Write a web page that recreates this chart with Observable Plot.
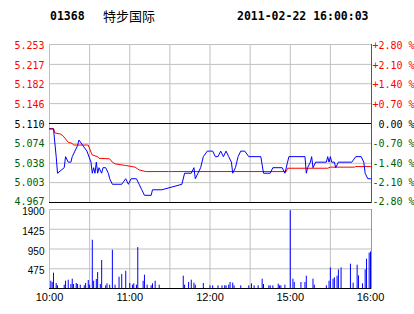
<!DOCTYPE html>
<html><head><meta charset="utf-8">
<script src="https://cdn.jsdelivr.net/npm/d3@7"></script>
<script src="https://cdn.jsdelivr.net/npm/@observablehq/plot@0.6"></script>
<style>
html,body{margin:0;padding:0;background:#fff;}
body{width:414px;height:314px;position:relative;overflow:hidden;}
.h{position:absolute;white-space:pre;color:#000;}
.mono{font-family:"DejaVu Sans Mono",monospace;font-weight:bold;font-size:11.5px;line-height:14px;top:9px;}
.cjk{font-family:"Noto Sans CJK SC",sans-serif;font-size:13px;line-height:16px;top:7.5px;left:103px;}
#p1{position:absolute;left:0;top:30px;}
#p2{position:absolute;left:0;top:204px;}
</style></head><body>
<div class="h mono" style="left:50px">01368</div>
<div class="h cjk">特步国际</div>
<div class="h mono" style="left:237px">2011-02-22 16:00:03</div>
<div id="p1"></div>
<div id="p2"></div>
<script>
// ---- data ----
const preClose = 5.110;
const priceTicksUp = [5.146, 5.182, 5.217, 5.253];
const priceTicksDown = [4.967, 5.003, 5.038, 5.074];
const pctUp = ["+0.70 %", "+1.40 %", "+2.10 %", "+2.80 %"];
const pctDown = ["-2.80 %", "-2.10 %", "-1.40 %", "-0.70 %"];
const pctZero = "\u00a00.00 %";
const volTicks = [475, 950, 1425, 1900];
const gridTimes = ["10:00", "10:30", "11:00", "11:30", "12:00", "12:30", "15:00", "15:30"];
const timeTicks = ["10:00", "11:00", "12:00", "15:00", "16:00"];

const priceTimes = ["10:00","10:03","10:05","10:06","10:11","10:12","10:14","10:16","10:17","10:19","10:21","10:22","10:25","10:28","10:31","10:32","10:33","10:34","10:35","10:36","10:37","10:39","10:40","10:42","10:44","10:45","10:47","10:54","10:57","10:59","11:01","11:05","11:07","11:09","11:11","11:16","11:17","11:24","11:39","11:41","11:46","11:48","11:49","11:51","11:53","11:55","11:58","12:00","12:02","12:04","12:06","12:08","12:10","12:12","12:14","12:16","12:17","12:19","12:21","12:23","12:26","12:29","14:38","14:40","14:45","14:47","14:54","14:56","14:58","14:59","15:11","15:12","15:13","15:15","15:16","15:17","15:19","15:27","15:28","15:29","15:30","15:31","15:33","15:34","15:36","15:46","15:49","15:53","15:55","15:56","15:58","16:00"];
const prices = [5.10,5.10,5.05,5.02,5.03,5.05,5.04,5.04,5.05,5.06,5.07,5.08,5.07,5.06,5.04,5.02,5.03,5.02,5.04,5.02,5.03,5.02,5.03,5.03,5.02,5.01,5.00,5.00,5.01,5.00,5.01,5.01,5.00,4.99,4.98,4.98,4.99,4.99,5.00,5.02,5.02,5.03,5.01,5.02,5.03,5.05,5.06,5.06,5.06,5.05,5.05,5.06,5.05,5.06,5.05,5.04,5.02,5.03,5.05,5.06,5.06,5.05,5.05,5.02,5.02,5.03,5.03,5.02,5.04,5.05,5.05,5.02,5.03,5.04,5.05,5.03,5.04,5.04,5.05,5.04,5.05,5.04,5.04,5.03,5.04,5.04,5.05,5.05,5.04,5.02,5.01,5.01];

const avgTimes = ["10:00","10:03","10:04","10:08","10:10","10:12","10:14","10:17","10:18","10:29","10:31","10:32","10:36","10:37","10:45","10:47","10:49","10:57","11:04","11:07","11:12","11:29","11:31","14:57","14:58","15:28","15:30","15:48","15:49","16:00"];
const avgPrices = [5.101,5.101,5.093,5.091,5.088,5.082,5.076,5.074,5.071,5.071,5.058,5.053,5.050,5.047,5.046,5.040,5.037,5.034,5.031,5.026,5.023,5.023,5.023,5.023,5.029,5.029,5.031,5.031,5.032,5.032];

const volTimes = ["10:01","10:02","10:03","10:05","10:06","10:11","10:12","10:14","10:16","10:17","10:18","10:20","10:21","10:23","10:26","10:27","10:29","10:30","10:32","10:33","10:35","10:36","10:38","10:39","10:42","10:43","10:45","10:47","10:49","10:52","10:54","10:57","11:00","11:02","11:03","11:05","11:06","11:10","11:11","11:13","11:16","11:17","11:19","11:22","11:40","11:41","11:44","11:46","11:48","11:49","11:55","12:00","12:02","12:06","12:09","12:11","12:12","12:14","12:15","12:17","12:18","12:23","12:29","14:31","14:33","14:36","14:39","14:40","14:44","14:45","14:47","14:51","14:52","14:53","14:56","15:00","15:02","15:03","15:08","15:11","15:12","15:17","15:18","15:27","15:29","15:30","15:32","15:33","15:35","15:36","15:38","15:45","15:47","15:50","15:51","15:54","15:56","15:57","15:59","16:00"];
const volumes = [175,144,368,120,64,80,175,200,96,224,96,120,96,80,64,120,192,80,1160,175,216,384,96,673,64,112,80,921,80,272,336,416,120,80,112,80,985,175,320,80,64,112,175,80,296,80,144,200,128,80,120,64,64,64,64,64,64,80,144,128,64,64,64,112,64,64,224,96,64,64,64,104,64,64,80,1870,224,144,144,144,296,224,80,64,175,496,224,256,296,448,496,584,128,560,304,112,448,705,850,880];

// ---- helpers ----
function tm(s) { // trading minutes since 10:00, lunch break (12:30-14:30) removed
  const [h, m] = s.split(":").map(Number);
  const mm = h * 60 + m;
  let v = mm - 600;
  if (mm >= 870) v -= 120;
  return v;
}
const priceRows = priceTimes.map((s, i) => ({t: tm(s), p: prices[i]}));
const avgRows = avgTimes.map((s, i) => ({t: tm(s), p: avgPrices[i]}));
const volRows = volTimes.map((s, i) => ({t: tm(s), v: volumes[i]}));
const pctMap = new Map([...priceTicksUp.map((v, i) => [v, pctUp[i]]), ...priceTicksDown.map((v, i) => [v, pctDown[i]]), [preClose, pctZero]]);
const timeLab = new Map(timeTicks.map(s => [tm(s), s]));
const fmt3 = d3.format(".3f");

const RED = "#ff0000", GREEN = "#006000", GRID = "#c0c0c0";
const mono = "DejaVu Sans Mono";
const style = {background: "transparent", fontFamily: mono, fontSize: "10px", overflow: "visible"};
const xScale = {domain: [0, 240], range: [49, 370], label: null};
const bottomTick = [priceTicksDown[0]];
const downTicks = priceTicksDown.slice(1);

function labels(ticks, fill, dy) {
  return [
    Plot.axisY(ticks, {anchor: "left", tickSize: 0, tickPadding: 5, tickFormat: fmt3, fill, fontFamily: mono, fontSize: 10, dy}),
    Plot.axisY(ticks, {anchor: "right", tickSize: 0, tickPadding: 1, tickFormat: d => pctMap.get(d), fill, fontFamily: mono, fontSize: 10, dy})
  ];
}

const p1 = Plot.plot({
  width: 414, height: 180, marginLeft: 49, marginRight: 43, marginTop: 14, marginBottom: 8,
  style,
  x: {...xScale, axis: null},
  y: {domain: [priceTicksDown[0], priceTicksUp[3]], label: null},
  marks: [
    Plot.ruleY([...downTicks, ...priceTicksUp], {stroke: GRID}),
    Plot.ruleX(gridTimes.map(tm), {stroke: GRID}),
    Plot.ruleY([preClose, priceTicksDown[0]], {stroke: "#000"}),
    Plot.frame({anchor: "right", stroke: "#555"}),
    Plot.line(avgRows, {x: "t", y: "p", stroke: RED, strokeWidth: 1}),
    Plot.line(priceRows, {x: "t", y: "p", stroke: "#0000ff", strokeWidth: 1}),
    ...labels(priceTicksUp, RED, 1.5),
    ...labels([preClose], "#000", 1),
    ...labels(downTicks, GREEN, 0.5),
    ...labels(bottomTick, GREEN, -1)
  ]
});
document.getElementById("p1").append(p1);

const p2 = Plot.plot({
  width: 414, height: 110, marginLeft: 49, marginRight: 43, marginTop: 5, marginBottom: 26,
  style,
  x: xScale,
  y: {domain: [0, volTicks[3]], label: null},
  marks: [
    Plot.ruleY(volTicks, {stroke: GRID}),
    Plot.ruleX(gridTimes.map(tm), {stroke: GRID}),
    Plot.frame({anchor: "right", stroke: "#999"}),
    Plot.ruleX(volRows, {x: "t", y1: 0, y2: "v", stroke: "#0000ff", strokeWidth: 1}),
    Plot.ruleY([0], {stroke: "#000"}),
    Plot.axisY(volTicks, {anchor: "left", tickSize: 0, tickPadding: 5, tickFormat: d => String(d), fontFamily: "Liberation Sans", fontSize: 10, dy: 2.5, fill: "#000"}),
    Plot.axisX(timeTicks.map(tm), {tickSize: 0, tickPadding: 5, tickFormat: d => timeLab.get(d), fontFamily: "Liberation Sans", fontSize: 11, fill: "#000"})
  ]
});
document.getElementById("p2").append(p2);
</script>
</body></html>
